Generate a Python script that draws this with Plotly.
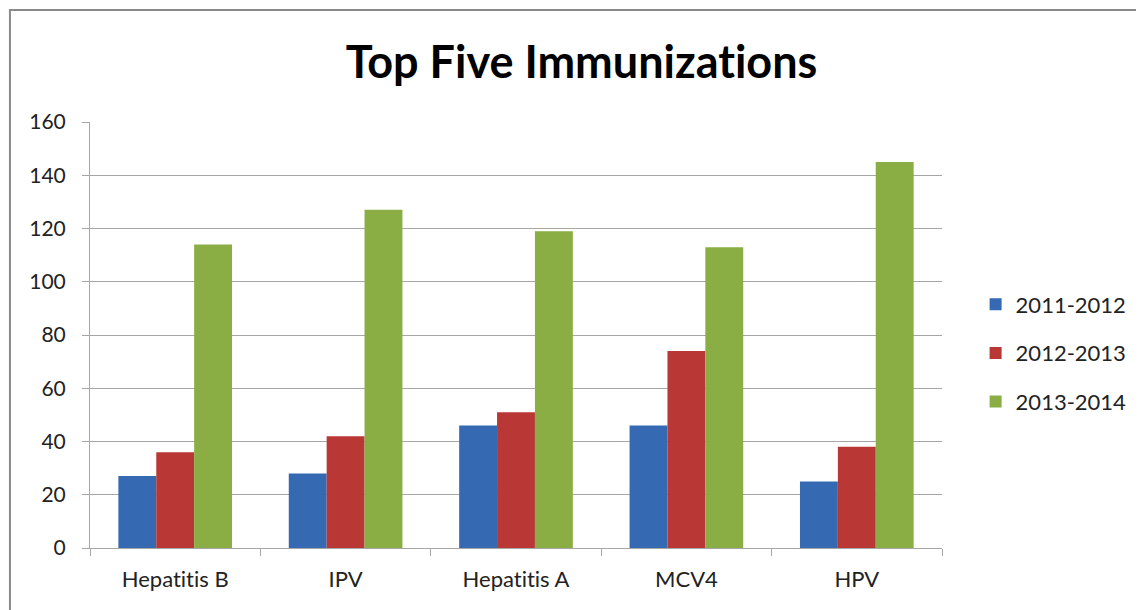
import plotly.graph_objects as go

vacunas = ['Hepatitis B', 'IPV', 'Hepatitis A', 'MCV4', 'HPV']
anio_2011_2012 = [27, 28, 46, 46, 25]
anio_2012_2013 = [36, 42, 51, 74, 38]
anio_2013_2014 = [114, 127, 119, 113, 145]
temporadas = ['2011-2012', '2012-2013', '2013-2014']
colores = ['#3569B2', '#B93734', '#8AAD44']

# la pagina mete 8px de margen en el body, asi que todo va en coordenadas de figura
W, H = 1136, 602
L, R, T, B = 82, 944, 114, 540
pw, ph = R - L, B - T

# evitar la ligadura "ti" de Lato con un ZWNJ
def sin_ligadura(s):
    return s.replace('ti', 't\u200ci')

fig = go.Figure()
for nombre, valores, color in zip(temporadas, [anio_2011_2012, anio_2012_2013, anio_2013_2014], colores):
    fig.add_trace(go.Bar(
        x=vacunas, y=valores, name=nombre,
        marker=dict(color=color, line=dict(width=0)),
        legendgroup=nombre,
    ))

# marco gris del grafico
fig.add_shape(type='rect', xref='paper', yref='paper',
              x0=(1 - L) / pw, x1=(1160 - L) / pw,
              y0=(B - 625) / ph, y1=(B - 2) / ph,
              line=dict(color='#8a8a8a', width=2), fillcolor='rgba(0,0,0,0)',
              layer='below')

fig.update_layout(
    width=W, height=H,
    margin=dict(l=L, r=W - R, t=T, b=H - B),
    paper_bgcolor='white', plot_bgcolor='white',
    font=dict(family='Lato, Open Sans, sans-serif', color='#222222', size=22),
    title=dict(text='<b>' + sin_ligadura('Top Five Immunizations') + '</b>',
               x=573.5 / W, y=1 - 54 / H,
               xanchor='center', yanchor='middle',
               font=dict(size=45, color='black')),
    barmode='group', bargap=0.333, bargroupgap=0,
    legend=dict(x=(978 - L) / pw, y=(B - 345) / ph, xanchor='left', yanchor='middle',
                font=dict(size=22), tracegroupgap=17, itemwidth=30),
    showlegend=True,
)
fig.update_yaxes(range=[0, 160], dtick=20, showgrid=True, gridcolor='#a6a6a6', gridwidth=1,
                 showline=True, linecolor='#a6a6a6', linewidth=1,
                 ticks='outside', ticklen=7, tickcolor='#a6a6a6', ticklabelstandoff=12,
                 tickfont=dict(size=21), zeroline=False)
fig.update_xaxes(showline=True, linecolor='#a6a6a6', linewidth=1,
                 ticks='outside', ticklen=7, tickcolor='#a6a6a6', tickson='boundaries',
                 ticklabelstandoff=12,
                 tickvals=vacunas, ticktext=[sin_ligadura(v) for v in vacunas],
                 tickfont=dict(size=22), mirror=False)

fig.write_html('out.html')
